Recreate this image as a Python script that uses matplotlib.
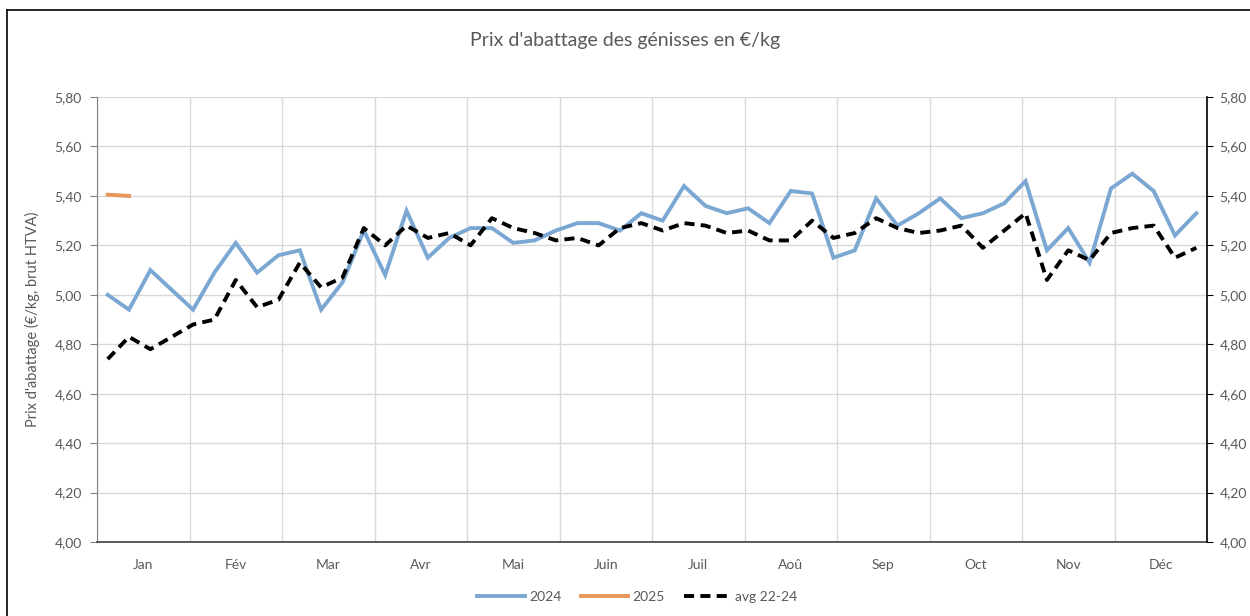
import matplotlib
matplotlib.use("Agg")
import matplotlib.pyplot as plt
import numpy as np

plt.rcParams['font.family'] = ['Lato', 'DejaVu Sans']

# mois (axe x)
months = ['Jan', 'Fév', 'Mar', 'Avr', 'Mai', 'Juin', 'Juil', 'Aoû', 'Sep', 'Oct', 'Nov', 'Déc']

# prix hebdo (€/kg)
p2024 = [5.00, 4.94, 5.10, 5.02, 4.94, 5.09, 5.21, 5.09, 5.16, 5.18,
         4.94, 5.05, 5.26, 5.08, 5.34, 5.15, 5.23, 5.27, 5.27, 5.21,
         5.22, 5.26, 5.29, 5.29, 5.26, 5.33, 5.30, 5.44, 5.36, 5.33,
         5.35, 5.29, 5.42, 5.41, 5.15, 5.18, 5.39, 5.28, 5.33, 5.39,
         5.31, 5.33, 5.37, 5.46, 5.18, 5.27, 5.13, 5.43, 5.49, 5.42,
         5.24, 5.33]
p2025 = [5.405, 5.40]
avg_22_24 = [4.74, 4.83, 4.78, 4.83, 4.88, 4.90, 5.06, 4.95, 4.98, 5.13,
             5.03, 5.07, 5.27, 5.20, 5.28, 5.23, 5.25, 5.20, 5.31, 5.27,
             5.25, 5.22, 5.23, 5.20, 5.27, 5.29, 5.26, 5.29, 5.28, 5.25,
             5.26, 5.22, 5.22, 5.30, 5.23, 5.25, 5.31, 5.27, 5.25, 5.26,
             5.28, 5.19, 5.26, 5.33, 5.06, 5.18, 5.14, 5.25, 5.27, 5.28,
             5.15, 5.19]

yticks = [4.0, 4.2, 4.4, 4.6, 4.8, 5.0, 5.2, 5.4, 5.6, 5.8]

txt = '#595959'
grid = '#D9D9D9'

fig = plt.figure(figsize=(12.5, 6.16), dpi=100)
ax = fig.add_axes([0.0776, 0.120, 0.888, 0.7225])

weeks = np.arange(len(p2024))
ax.plot(weeks, p2024, color='#7BA7D3', lw=2.8, label='2024', solid_joinstyle='miter')
ax.plot(np.arange(len(p2025)), p2025, color='#E8965A', lw=2.8, label='2025')
ax.plot(weeks, avg_22_24, color='black', lw=2.8, ls=(0, (2.6, 1.6)), label='avg 22-24')

nw = len(p2024)
ax.set_xlim(-0.5, nw - 0.5)
ax.set_ylim(4.0, 5.8)

# grille verticale aux limites de mois, libelles au centre
bounds = -0.5 + nw / 12 * np.arange(13)
centers = (bounds[:-1] + bounds[1:]) / 2
ax.set_xticks(bounds)
ax.set_xticklabels([])
ax.set_xticks(centers, minor=True)
ax.set_xticklabels(months, minor=True)
ax.tick_params(axis='x', which='both', length=0, pad=12, labelsize=10, labelcolor=txt)
ax.grid(True, axis='x', which='major', color=grid, lw=1)

ax.set_yticks(yticks)
ax.set_yticklabels([('%.2f' % v).replace('.', ',') for v in yticks])
ax.tick_params(axis='y', length=5, color='#808080', labelsize=10, labelcolor=txt, pad=6)
ax.grid(True, axis='y', color=grid, lw=1)
ax.set_axisbelow(True)

for s in ['top', 'right']:
    ax.spines[s].set_visible(False)
ax.spines['left'].set_color('#808080')
ax.spines['bottom'].set_color('#404040')
ax.spines['bottom'].set_linewidth(1.2)

ax2 = ax.twinx()
ax2.set_ylim(4.0, 5.8)
ax2.set_yticks(yticks)
ax2.set_yticklabels([('%.2f' % v).replace('.', ',') for v in yticks])
ax2.tick_params(axis='y', length=4, color='black', labelsize=10, labelcolor=txt, pad=5)
for s in ['top', 'left', 'bottom']:
    ax2.spines[s].set_visible(False)
ax2.spines['right'].set_color('black')
ax2.spines['right'].set_linewidth(1.2)

ax.set_ylabel("Prix d'abattage (€/kg, brut HTVA)", fontsize=10.5, color=txt, labelpad=10)

fig.text(0.5, 0.935, "Prix d'abattage des génisses en €/kg", ha='center', va='center',
         fontsize=14, color=txt)

fig.legend(loc='center', bbox_to_anchor=(0.51, 0.031), ncol=3, frameon=False,
           fontsize=10, labelcolor=txt, handlelength=3.4, columnspacing=1.4, handletextpad=0.3)

# cadre partiel de l'image
fig.add_artist(plt.Line2D([0.0056, 0.0056], [0, 0.984], color='black', lw=1.2))
fig.add_artist(plt.Line2D([0.0056, 1], [0.984, 0.984], color='black', lw=1.2))

fig.savefig('out.png', dpi=100)
